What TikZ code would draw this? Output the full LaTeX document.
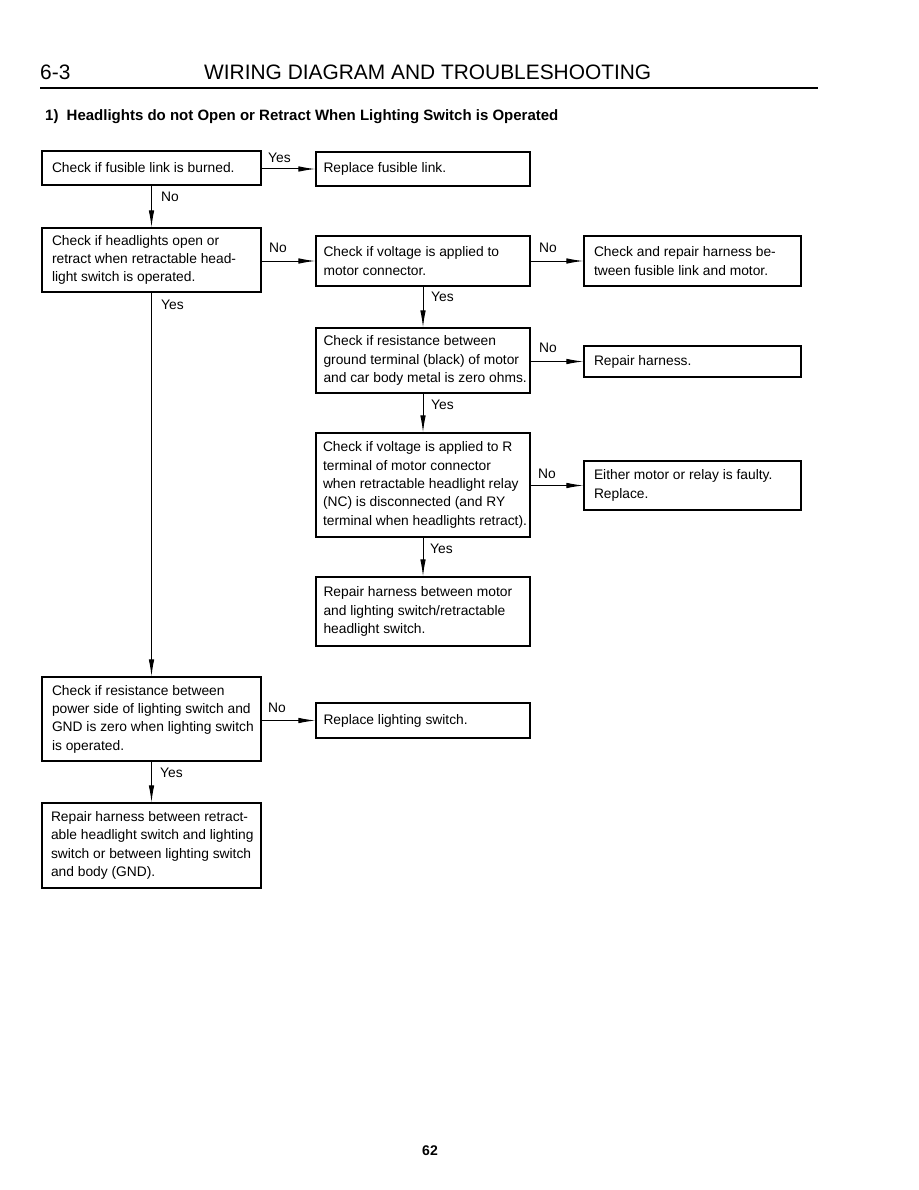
\documentclass[tikz,border=0pt]{standalone}
\usepackage{fontspec}
\setmainfont{Liberation Sans}
\usetikzlibrary{arrows.meta}
\newcommand{\boxtext}[3]{\hspace*{#1pt}\parbox{\dimexpr#2pt-#1pt\relax}{\raggedright #3}}
\begin{document}
\begin{tikzpicture}[x=1pt,y=-1pt,
 box/.style={draw, line width=1.1pt, inner xsep=0pt, inner ysep=2pt, font=\fontsize{13.8}{18.3}\selectfont},
 lbl/.style={anchor=west, inner sep=0pt, font=\fontsize{13.8}{16}\selectfont},
 arr/.style={line width=1pt, -{Latex[length=17pt,width=5.5pt]}},
 hdr/.style={anchor=west, inner sep=0pt, font=\fontsize{20.9}{24}\selectfont}
]
\useasboundingbox (0,0) rectangle (918,1190);

% header
\node[hdr] (sec) at (40,72) {6-3};
\node[hdr] (title) at (204,72) {WIRING DIAGRAM AND TROUBLESHOOTING};
\coordinate (r1) at (40,88);
\coordinate (r2) at (818,88);
\draw[line width=2.2pt] (r1) -- (r2);
\node[anchor=west, inner sep=0pt, font=\bfseries\fontsize{15}{18}\selectfont] (sub) at (45,117) {1)\hspace{4pt} Headlights do not Open or Retract When Lighting Switch is Operated};

% boxes
\node[box, minimum width=219pt, minimum height=34pt] (b1) at (151.5,168) {\boxtext{10}{219}{Check if fusible link is burned.}};
\node[box, minimum width=214pt, minimum height=34pt] (b2) at (423,169) {\boxtext{7.5}{214}{Replace fusible link.}};
\node[box, minimum width=219pt, minimum height=64pt] (b3) at (151.5,260) {\boxtext{10}{219}{Check if headlights open or\\ retract when retractable head-\\ light switch is operated.}};
\node[box, minimum width=214pt, minimum height=50pt] (b4) at (423,261) {\boxtext{7.5}{214}{Check if voltage is applied to\\ motor connector.}};
\node[box, minimum width=217pt, minimum height=50pt] (b5) at (692.5,261) {\boxtext{10}{217}{Check and repair harness be-\\ tween fusible link and motor.}};
\node[box, minimum width=214pt, minimum height=65pt] (b6) at (423,360.5) {\boxtext{7.5}{214}{Check if resistance between\\ ground terminal (black) of motor\\ and car body metal is zero ohms.}};
\node[box, minimum width=217pt, minimum height=31pt] (b7) at (692.5,361.5) {\boxtext{10}{217}{Repair harness.}};
\node[box, minimum width=214pt, minimum height=104pt] (b8) at (423,485) {\boxtext{7}{214}{Check if voltage is applied to R\\ terminal of motor connector\\ when retractable headlight relay\\ (NC) is disconnected (and RY\\ terminal when headlights retract).}};
\node[box, minimum width=217pt, minimum height=49pt] (b9) at (692.5,485.5) {\boxtext{10}{217}{Either motor or relay is faulty.\\ Replace.}};
\node[box, minimum width=214pt, minimum height=69pt] (b10) at (423,611.5) {\boxtext{7.5}{214}{Repair harness between motor\\ and lighting switch/retractable\\ headlight switch.}};
\node[box, minimum width=219pt, minimum height=84pt] (b11) at (151.5,719) {\boxtext{10}{219}{Check if resistance between\\ power side of lighting switch and\\ GND is zero when lighting switch\\ is operated.}};
\node[box, minimum width=214pt, minimum height=35pt] (b12) at (423,720.5) {\boxtext{7.5}{214}{Replace lighting switch.}};
\node[box, minimum width=219pt, minimum height=85pt] (b13) at (151.5,845.5) {\boxtext{9}{219}{Repair harness between retract-\\ able headlight switch and lighting\\ switch or between lighting switch\\ and body (GND).}};

% connectors
\draw[arr] (b1.east |- b2.west) -- (b2.west);
\draw[arr] (b1.south) -- (b3.north);
\draw[arr] (b3.east |- b4.west) -- (b4.west);
\draw[arr] (b4.east) -- (b5.west);
\draw[arr] (b4.south) -- (b6.north);
\draw[arr] (b6.east |- b7.west) -- (b7.west);
\draw[arr] (b6.south) -- (b8.north);
\draw[arr] (b8.east |- b9.west) -- (b9.west);
\draw[arr] (b8.south) -- (b10.north);
\draw[arr] (b3.south) -- (b11.north);
\draw[arr] (b11.east |- b12.west) -- (b12.west);
\draw[arr] (b11.south) -- (b13.north);

% labels
\node[lbl] (l1) at (268,158) {Yes};
\node[lbl] (l2) at (161,197) {No};
\node[lbl] (l3) at (269,248) {No};
\node[lbl] (l4) at (539,248) {No};
\node[lbl] (l5) at (431,297) {Yes};
\node[lbl] (l6) at (539,348) {No};
\node[lbl] (l7) at (431,405) {Yes};
\node[lbl] (l8) at (538,474) {No};
\node[lbl] (l9) at (430,549) {Yes};
\node[lbl] (l10) at (161,305) {Yes};
\node[lbl] (l11) at (268,708) {No};
\node[lbl] (l12) at (160,773) {Yes};

% page number
\node[inner sep=0pt, font=\bfseries\fontsize{14}{16}\selectfont] (pg) at (430,1151) {62};
\end{tikzpicture}
\end{document}
